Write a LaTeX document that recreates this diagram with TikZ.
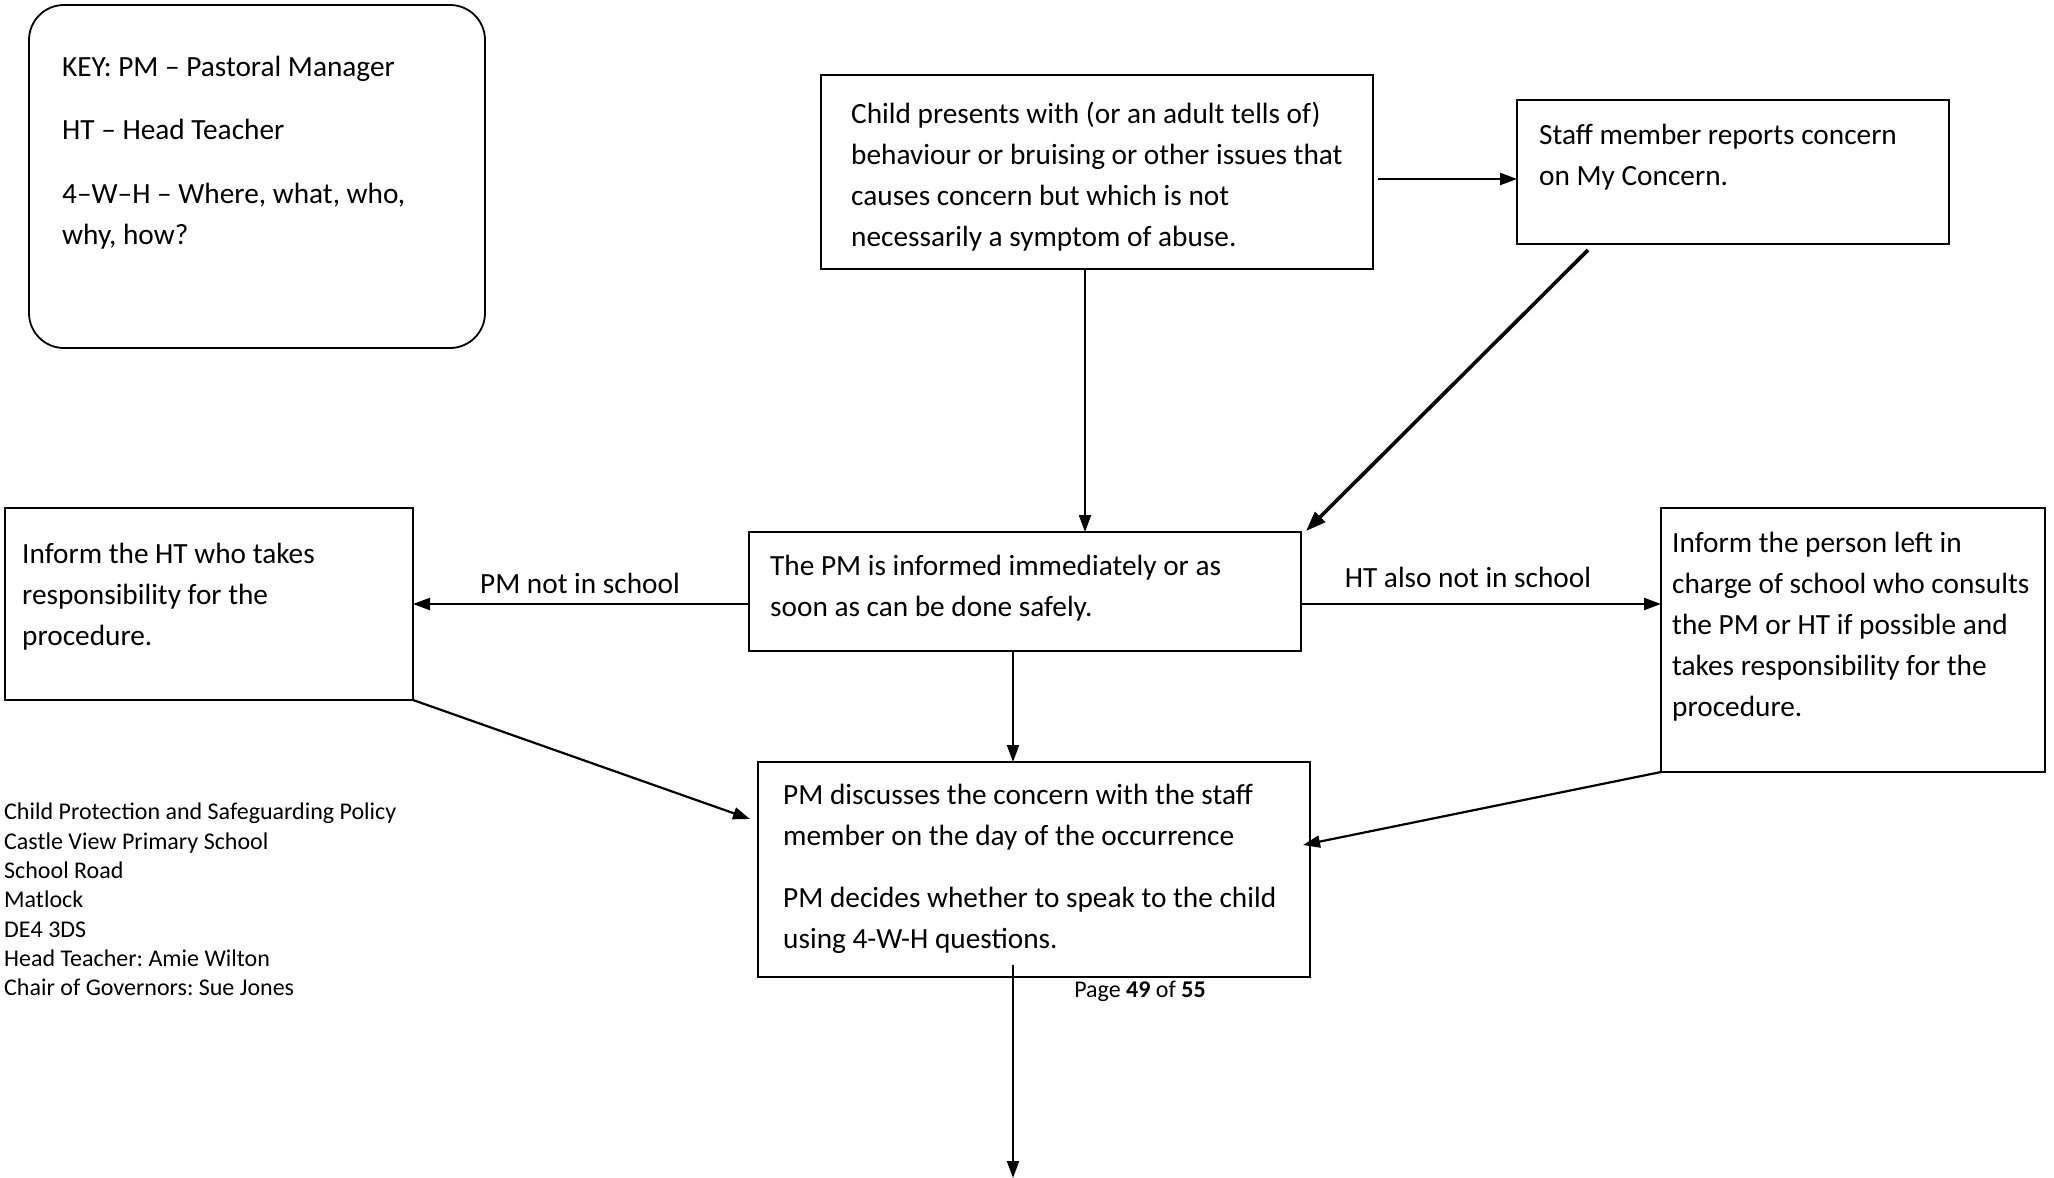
\documentclass[tikz,border=0pt]{standalone}
\usepackage{fontspec}
\setmainfont{Carlito}
\frenchspacing
\usetikzlibrary{arrows.meta,calc}
\begin{document}
\begin{tikzpicture}[x=1pt,y=-1pt,
  box/.style={draw,line width=1.8pt,anchor=north west,inner sep=0pt,outer sep=0pt},
  txt/.style={anchor=north west,inner sep=0pt,align=left,font=\fontsize{29.3}{41}\selectfont\frenchspacing,execute at begin node={\rule{0pt}{24pt}}},
  lbl/.style={anchor=base,inner sep=0pt,font=\fontsize{29.3}{41}\selectfont},
  foot/.style={anchor=north west,inner sep=0pt,align=left,font=\fontsize{24}{29.3}\selectfont\frenchspacing,execute at begin node={\rule{0pt}{20pt}}},
  conn/.style={line width=2.2pt,-{Triangle[length=17pt,width=12pt]}},
  thick conn/.style={line width=3.6pt,-{Triangle[length=20pt,width=14pt]}}]
\fill[white] (0,0) rectangle (2054,1178);
\useasboundingbox (0,0) rectangle (2054,1178);

% boxes
\node[box,rounded corners=35pt,minimum width=456pt,minimum height=343pt] (key) at (29,5) {};
\node[box,minimum width=552pt,minimum height=194pt] (child) at (821,75) {};
\node[box,minimum width=432pt,minimum height=144pt] (staff) at (1517,100) {};
\node[box,minimum width=552pt,minimum height=119pt] (pm) at (749,532) {};
\node[box,minimum width=408pt,minimum height=192pt] (ht) at (5,508) {};
\node[box,minimum width=384pt,minimum height=264pt] (rt) at (1661,508) {};
\node[box,minimum width=552pt,minimum height=215pt] (disc) at (758,762) {};

% texts
\node[txt] (keytxt) at (62,56) {KEY: PM – Pastoral Manager\\[22pt]HT – Head Teacher\\[23pt]4–W–H – Where, what, who,\\why, how?};
\node[txt] (childtxt) at (851,102) {Child presents with (or an adult tells of)\\behaviour or bruising or other issues that\\causes concern but which is not\\necessarily a symptom of abuse.};
\node[txt] (stafftxt) at (1539,124) {Staff member reports concern\\on My Concern.};
\node[txt] (pmtxt) at (770,555) {The PM is informed immediately or as\\soon as can be done safely.};
\node[txt] (httxt) at (22,543) {Inform the HT who takes\\responsibility for the\\procedure.};
\node[txt] (rttxt) at (1672,532) {Inform the person left in\\charge of school who consults\\the PM or HT if possible and\\takes responsibility for the\\procedure.};
\node[txt] (disctxt) at (783,784) {PM discusses the concern with the staff\\member on the day of the occurrence\\[21pt]PM decides whether to speak to the child\\using 4-W-H questions.};

\node[lbl] (l1) at (580,593) {PM not in school};
\node[lbl] (l2) at (1468,587) {HT also not in school};

\node[foot] (footer) at (4,803) {Child Protection and Safeguarding Policy\\Castle View Primary School\\School Road\\Matlock\\DE4 3DS\\Head Teacher: Amie Wilton\\Chair of Governors: Sue Jones};
\node[anchor=base,inner sep=0pt,font=\fontsize{24}{29.3}\selectfont] (page) at (1140,997) {Page \textbf{49} of \textbf{55}};

% connector end points
\coordinate (c1) at (1378,179);
\coordinate (c2) at (1085,269);
\coordinate (c3) at (1588,250);
\coordinate (c4) at (1306,531);
\coordinate (c5) at (1013,651);
\coordinate (c6) at (750,819);
\coordinate (c7) at (1303,845);
\coordinate (c8) at (1013,965);
\coordinate (c9) at (1013,1178);

% connectors
\draw[conn] (c1) -- (c1 -| staff.west);
\draw[conn] (c2) -- (c2 |- pm.north);
\draw[thick conn] (c3) -- (c4);
\draw[conn] (pm.west |- 0,604) -- (ht.east |- 0,604);
\draw[conn] (pm.east |- 0,604) -- (rt.west |- 0,604);
\draw[conn] (c5) -- (c5 |- disc.north);
\draw[conn] (ht.south east) -- (c6);
\draw[conn] (rt.south west) -- (c7);
\draw[conn] (c8) -- (c9);
\end{tikzpicture}
\end{document}
